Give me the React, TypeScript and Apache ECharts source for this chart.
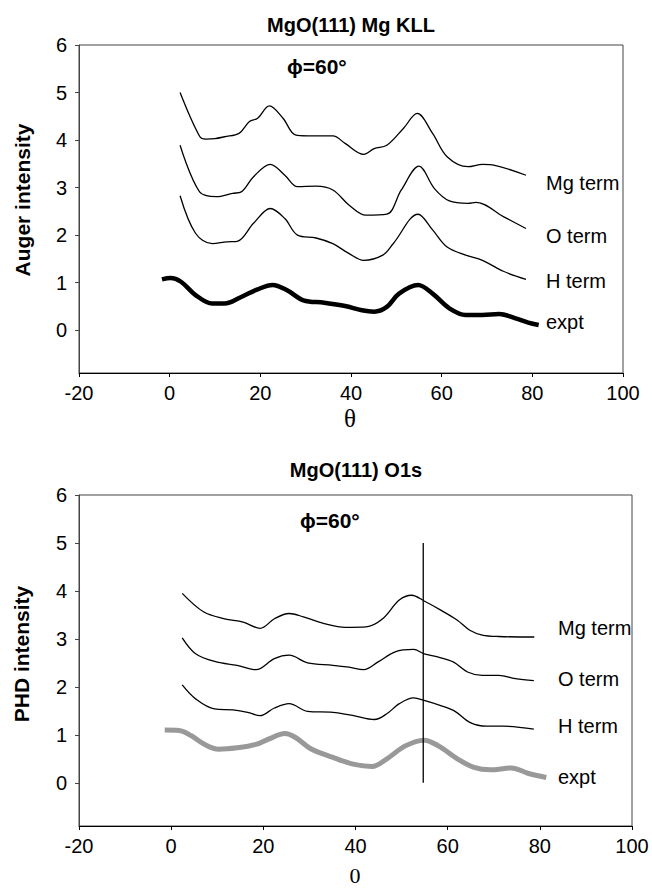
import { useEffect, useRef } from "react";
import * as echarts from "echarts";

// ---------- axes ----------
const xMin = -20;
const xMax = 100;
const xStep = 20;
const yMin = -0.9;
const yMax = 6;
const yTickValues = [0, 1, 2, 3, 4, 5, 6];

// ---------- top panel: MgO(111) Mg KLL (theta, Auger intensity) ----------
const augerMgTerm: [number, number][] = [
  [2.3, 5.0], [6.6, 4.08], [8.0, 4.02], [10, 4.03], [12.1, 4.07], [15.3, 4.14],
  [17.6, 4.39], [19.4, 4.46], [22.0, 4.72], [25.0, 4.46], [27.7, 4.11],
  [30.5, 4.09], [36.0, 4.09], [38.7, 3.93], [42.8, 3.7], [45.1, 3.82],
  [47.9, 3.89], [51.6, 4.25], [54.6, 4.56], [58.0, 4.14], [61.2, 3.65],
  [65.8, 3.44], [69.0, 3.49], [71.7, 3.47], [78.6, 3.26],
];
const augerOTerm: [number, number][] = [
  [2.3, 3.89], [6.6, 2.91], [10.3, 2.81], [13.9, 2.88], [15.8, 2.91],
  [18.5, 3.23], [22.2, 3.49], [25.4, 3.26], [28.2, 3.02], [32.3, 3.03],
  [36.0, 2.95], [39.6, 2.63], [43.3, 2.42], [47.9, 2.44], [51.1, 2.95],
  [55.0, 3.45], [58.4, 2.98], [61.7, 2.72], [65.8, 2.67], [67.6, 2.69],
  [73.6, 2.39], [78.6, 2.14],
];
const augerHTerm: [number, number][] = [
  [2.3, 2.83], [5.7, 2.04], [9.4, 1.82], [12.6, 1.86], [14.9, 1.87],
  [18.5, 2.25], [22.2, 2.56], [25.4, 2.35], [28.2, 2.0], [32.3, 1.94],
  [36.0, 1.82], [39.6, 1.61], [42.8, 1.47], [47.0, 1.58], [49.3, 1.82],
  [54.8, 2.44], [58.0, 2.11], [61.2, 1.75], [65.3, 1.58], [69.0, 1.47],
  [73.6, 1.24], [78.6, 1.07],
];
const augerExpt: [number, number][] = [
  [-1.7, 1.07], [0.2, 1.1], [2.5, 1.02], [5.7, 0.74], [9.4, 0.56], [12.1, 0.56],
  [15.8, 0.7], [19.4, 0.86], [22.7, 0.95], [25.9, 0.84], [29.5, 0.63],
  [34.1, 0.58], [38.7, 0.51], [42.4, 0.42], [45.1, 0.39], [47.9, 0.49],
  [50.6, 0.77], [54.8, 0.95], [58.0, 0.77], [61.7, 0.46], [65.3, 0.32],
  [69.0, 0.32], [72.7, 0.34], [76.3, 0.25], [79.1, 0.16], [81.4, 0.11],
];

// ---------- bottom panel: MgO(111) O1s (theta, PHD intensity) ----------
const phdMgTerm: [number, number][] = [
  [2.4, 3.95], [7.1, 3.56], [11.6, 3.42], [15.6, 3.35], [19.3, 3.22],
  [22.4, 3.42], [25.6, 3.53], [28.7, 3.46], [33.2, 3.32], [37.8, 3.24],
  [42.3, 3.25], [45.9, 3.42], [49.5, 3.81], [52.2, 3.91], [54.9, 3.79],
  [58.5, 3.6], [62.1, 3.39], [64.8, 3.18], [67.5, 3.08], [71.1, 3.05],
  [78.8, 3.04],
];
const phdOTerm: [number, number][] = [
  [2.4, 3.02], [5.3, 2.69], [9.8, 2.52], [14.3, 2.45], [18.4, 2.36],
  [22.4, 2.59], [25.6, 2.66], [29.6, 2.5], [35.1, 2.45], [38.6, 2.41],
  [41.8, 2.36], [44.9, 2.52], [48.6, 2.73], [52.6, 2.78], [54.9, 2.69],
  [58.0, 2.62], [61.2, 2.52], [64.3, 2.31], [67.5, 2.24], [71.1, 2.24],
  [74.7, 2.17], [78.7, 2.13],
];
const phdHTerm: [number, number][] = [
  [2.4, 2.04], [5.3, 1.75], [9.4, 1.54], [13.4, 1.52], [16.6, 1.47],
  [19.3, 1.4], [22.4, 1.56], [25.6, 1.65], [29.6, 1.49], [35.1, 1.47],
  [39.6, 1.4], [44.1, 1.32], [46.8, 1.44], [49.5, 1.65], [52.6, 1.77],
  [54.9, 1.72], [58.5, 1.61], [61.6, 1.49], [64.8, 1.26], [68.4, 1.18],
  [72.0, 1.18], [78.7, 1.12],
];
const phdExpt: [number, number][] = [
  [-1.4, 1.1], [1.7, 1.09], [4.4, 0.98], [7.1, 0.81], [10.3, 0.7], [14.3, 0.73],
  [18.4, 0.8], [21.1, 0.91], [24.7, 1.03], [26.9, 0.95], [30.5, 0.7],
  [35.1, 0.53], [39.5, 0.39], [43.6, 0.34], [46.8, 0.5], [50.8, 0.77],
  [54.9, 0.89], [58.0, 0.77], [62.1, 0.5], [65.7, 0.32], [69.3, 0.27],
  [73.8, 0.31], [77.4, 0.2], [81.4, 0.11],
];
const phdMarkerTheta = 54.7;
const phdMarkerRange = [0, 5];

const SANS = "'Liberation Sans', Arial, Helvetica, sans-serif";
const SERIF = "'Liberation Serif', 'Times New Roman', serif";

function xAxisFor(gridIndex: number) {
  return {
    type: "value",
    gridIndex,
    min: xMin,
    max: xMax,
    interval: xStep,
    axisLine: { show: true, onZero: false, lineStyle: { color: "#000", width: 1 } },
    axisTick: { show: true, inside: false, length: 4, lineStyle: { color: "#000", width: 1 } },
    axisLabel: { fontSize: 20, color: "#000", margin: 10, fontFamily: SANS },
    splitLine: { show: false },
  };
}

function yAxisFor(gridIndex: number) {
  return {
    type: "value",
    gridIndex,
    min: yMin,
    max: yMax,
    axisLine: { show: true, onZero: false, lineStyle: { color: "#444", width: 1 } },
    axisTick: {
      show: true,
      inside: false,
      length: 4,
      customValues: yTickValues,
      lineStyle: { color: "#444", width: 1 },
    },
    axisLabel: {
      customValues: yTickValues,
      fontSize: 20,
      color: "#000",
      margin: 12,
      fontFamily: SANS,
    },
    splitLine: { show: false },
  };
}

function lineSeries(
  data: [number, number][],
  idx: number,
  color: string,
  width: number
) {
  return {
    type: "line",
    xAxisIndex: idx,
    yAxisIndex: idx,
    data,
    smooth: 0.35,
    showSymbol: false,
    symbol: "none",
    lineStyle: { color, width },
    silent: true,
  };
}

function txt(
  text: string,
  x: number,
  y: number,
  fontSize: number,
  opts: { bold?: boolean; align?: string; family?: string; rotate?: boolean } = {}
) {
  return {
    type: "text",
    x,
    y,
    rotation: opts.rotate ? Math.PI / 2 : 0,
    style: {
      text,
      fill: "#000",
      fontSize,
      fontWeight: opts.bold ? "bold" : "normal",
      fontFamily: opts.family || SANS,
      textAlign: opts.align || "left",
      textVerticalAlign: "middle",
    },
    silent: true,
  };
}

export default function App() {
  const ref = useRef<HTMLDivElement>(null);

  useEffect(() => {
    if (!ref.current) return;
    const chart = echarts.init(ref.current, null, { renderer: "svg" });
    const option = {
      animation: false,
      backgroundColor: "#fff",
      grid: [
        { left: 79, top: 45, width: 544, height: 328, show: true, borderColor: "#444", borderWidth: 1 },
        { left: 79, top: 495, width: 553, height: 331, show: true, borderColor: "#444", borderWidth: 1 },
      ],
      xAxis: [xAxisFor(0), xAxisFor(1)],
      yAxis: [yAxisFor(0), yAxisFor(1)],
      series: [
        lineSeries(augerMgTerm, 0, "#000", 1.3),
        lineSeries(augerOTerm, 0, "#000", 1.3),
        lineSeries(augerHTerm, 0, "#000", 1.3),
        lineSeries(augerExpt, 0, "#000", 4.5),
        lineSeries(phdMgTerm, 1, "#000", 1.3),
        lineSeries(phdOTerm, 1, "#000", 1.3),
        lineSeries(phdHTerm, 1, "#000", 1.3),
        lineSeries(phdExpt, 1, "#999", 5),
        {
          type: "line",
          xAxisIndex: 1,
          yAxisIndex: 1,
          data: phdMarkerRange.map((v) => [phdMarkerTheta, v]),
          showSymbol: false,
          symbol: "none",
          lineStyle: { color: "#000", width: 1.3 },
          silent: true,
        },
      ],
      graphic: [
        txt("MgO(111) Mg KLL", 351, 25, 20, { bold: true, align: "center" }),
        txt("ϕ=60°", 287, 66, 21, { bold: true }),
        txt("Mg term", 546, 183, 20),
        txt("O term", 546, 236, 20),
        txt("H term", 546, 281, 20),
        txt("expt", 546, 322, 20),
        txt("Auger intensity", 22, 200, 21, { bold: true, align: "center", rotate: true }),
        txt("θ", 350, 418, 25, { align: "center", family: SERIF }),

        txt("MgO(111) O1s", 356, 470, 20, { bold: true, align: "center" }),
        txt("ϕ=60°", 300, 520, 21, { bold: true }),
        txt("Mg term", 558, 628, 20),
        txt("O term", 558, 679, 20),
        txt("H term", 558, 726, 20),
        txt("expt", 558, 777, 20),
        txt("PHD intensity", 21, 654, 21, { bold: true, align: "center", rotate: true }),
        txt("0", 355, 875, 22, { align: "center", family: SERIF }),
      ],
    };
    chart.setOption(option as any);
    return () => chart.dispose();
  }, []);

  return (
    <div
      ref={ref}
      style={{ position: "fixed", left: 0, top: 0, width: 652, height: 889 }}
    />
  );
}
